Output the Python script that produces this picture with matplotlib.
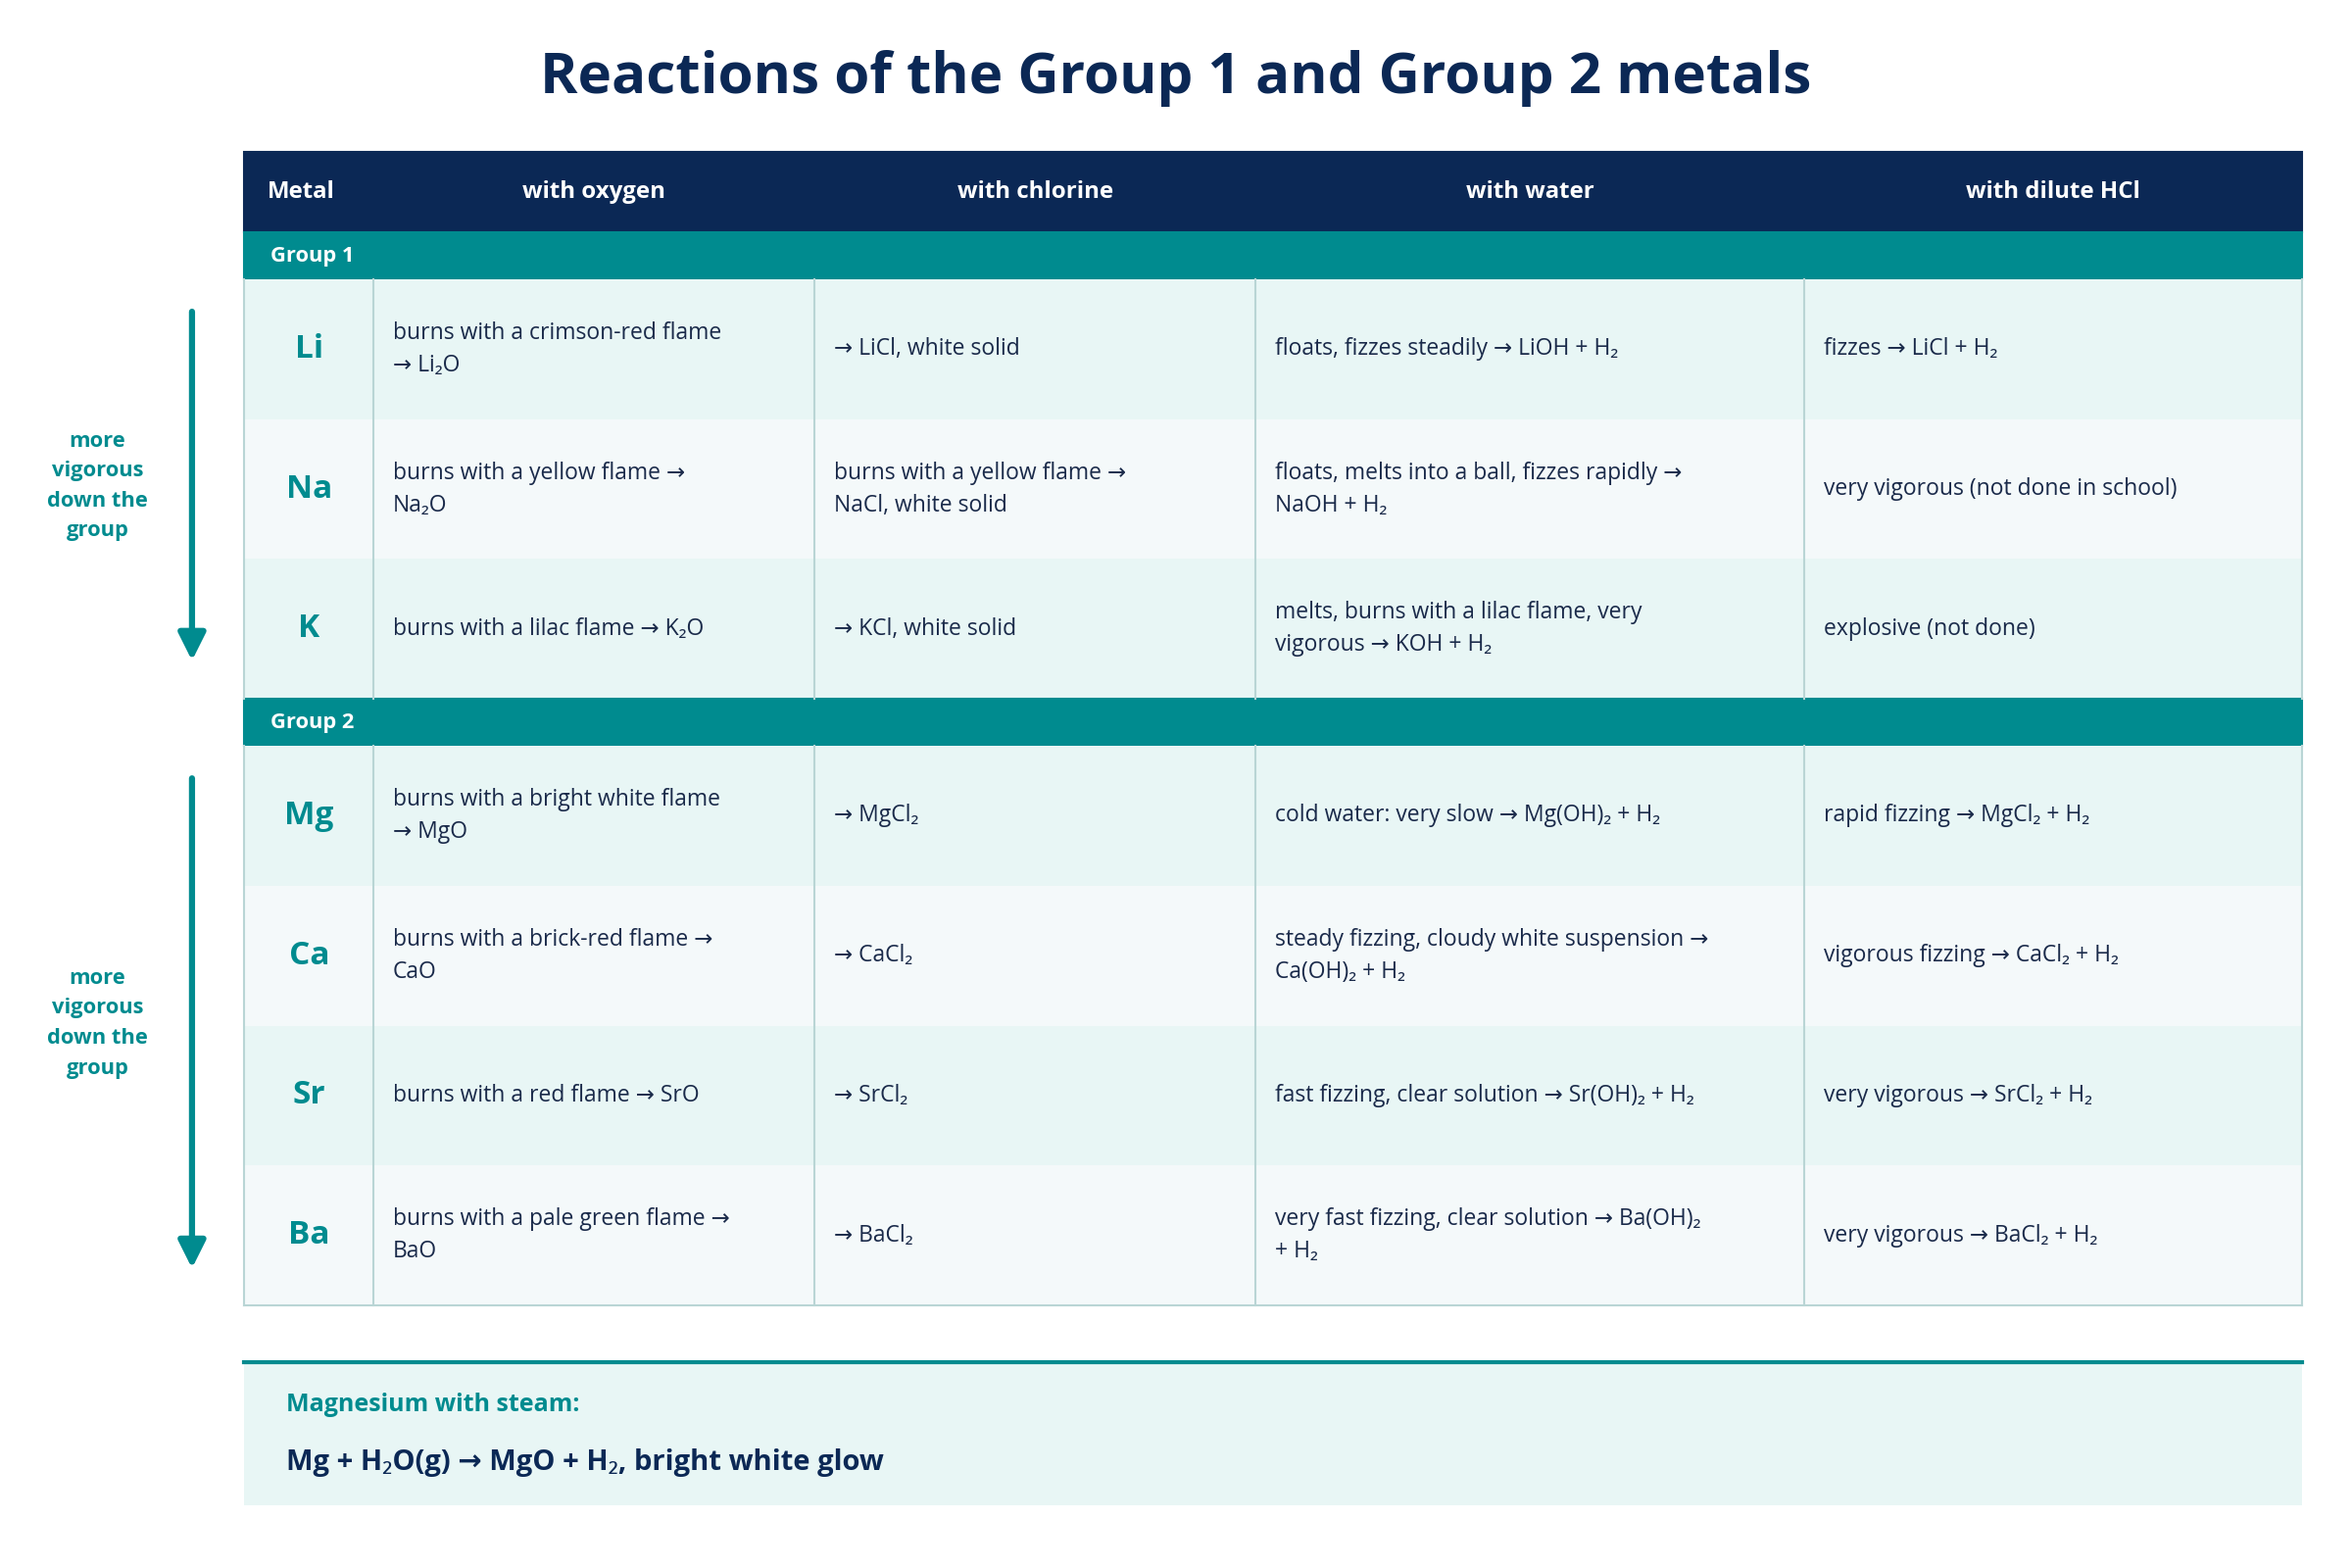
import matplotlib
matplotlib.use("Agg")
import matplotlib.pyplot as plt
from matplotlib.patches import Rectangle, FancyArrowPatch

plt.rcParams['font.family'] = ['Open Sans', 'Noto Sans', 'DejaVu Sans']

title = "Reactions of the Group 1 and Group 2 metals"
columns = ["Metal", "with oxygen", "with chlorine", "with water", "with dilute HCl"]
groups = ["Group 1", "Group 2"]
group1_metals = ["Li", "Na", "K"]
group1_rows = [
    ["burns with a crimson-red flame\n→ Li₂O", "→ LiCl, white solid", "floats, fizzes steadily → LiOH + H₂", "fizzes → LiCl + H₂"],
    ["burns with a yellow flame →\nNa₂O", "burns with a yellow flame →\nNaCl, white solid", "floats, melts into a ball, fizzes rapidly →\nNaOH + H₂", "very vigorous (not done in school)"],
    ["burns with a lilac flame → K₂O", "→ KCl, white solid", "melts, burns with a lilac flame, very\nvigorous → KOH + H₂", "explosive (not done)"],
]
group2_metals = ["Mg", "Ca", "Sr", "Ba"]
group2_rows = [
    ["burns with a bright white flame\n→ MgO", "→ MgCl₂", "cold water: very slow → Mg(OH)₂ + H₂", "rapid fizzing → MgCl₂ + H₂"],
    ["burns with a brick-red flame →\nCaO", "→ CaCl₂", "steady fizzing, cloudy white suspension →\nCa(OH)₂ + H₂", "vigorous fizzing → CaCl₂ + H₂"],
    ["burns with a red flame → SrO", "→ SrCl₂", "fast fizzing, clear solution → Sr(OH)₂ + H₂", "very vigorous → SrCl₂ + H₂"],
    ["burns with a pale green flame →\nBaO", "→ BaCl₂", "very fast fizzing, clear solution → Ba(OH)₂\n+ H₂", "very vigorous → BaCl₂ + H₂"],
]
side_note = "more\nvigorous\ndown the\ngroup"
box_title = "Magnesium with steam:"
box_text = "Mg + H₂O(g) → MgO + H₂, bright white glow"

NAVY = "#0b2855"; TEAL = "#008b8f"; TXT = "#1a2a4a"
ROW_A = "#e8f6f5"; ROW_B = "#f4f9fa"; LINE = "#b9d5d5"

fig = plt.figure(figsize=(16, 10.6667), dpi=150)
ax = fig.add_axes([0, 0, 1, 1])
ax.set_xlim(0, 1568); ax.set_ylim(1045, 0); ax.axis('off')

colx = [163, 249, 543, 837, 1203, 1535]
ax.text(784, 52, title, ha='center', va='center', fontsize=28, fontweight='bold', color=NAVY)

ax.add_patch(Rectangle((163, 101), 1372, 54, color=NAVY))
for i, c in enumerate(columns):
    if i == 0:
        ax.text(178, 128, c, ha='left', va='center', color='white', fontsize=11.5, fontweight='bold')
    else:
        ax.text((colx[i] + colx[i+1]) / 2, 128, c, ha='center', va='center', color='white', fontsize=11.5, fontweight='bold')

def draw_group(y0, name, metals, rows):
    ax.add_patch(Rectangle((163, y0), 1372, 31, color=TEAL))
    ax.text(180, y0 + 16, name, ha='left', va='center', color='white', fontsize=10.5, fontweight='bold')
    y = y0 + 31
    h = 93.3
    for k, (m, r) in enumerate(zip(metals, rows)):
        ax.add_patch(Rectangle((163, y), 1372, h, color=ROW_A if k % 2 == 0 else ROW_B, lw=0))
        ax.text(206, y + h/2, m, ha='center', va='center', color=TEAL, fontsize=16, fontweight='bold')
        for j, t in enumerate(r):
            ax.text(colx[j+1] + 13, y + h/2, t, ha='left', va='center', color=TXT, fontsize=11, linespacing=1.5)
        y += h
    for x in colx:
        ax.plot([x, x], [y0 + 31, y], color=LINE, lw=1)
    return y

y1 = draw_group(155, groups[0], group1_metals, group1_rows)
y2 = draw_group(y1, groups[1], group2_metals, group2_rows)
ax.plot([163, 1535], [y2, y2], color=LINE, lw=1)

for (ya, yb) in [(205, 443), (516, 848)]:
    ax.add_patch(FancyArrowPatch((128, ya), (128, yb), arrowstyle='-|>', mutation_scale=28, color=TEAL, lw=3))
    ax.text(65, (ya + yb) / 2, side_note, ha='center', va='center', color=TEAL, fontsize=10.5, fontweight='bold', linespacing=1.6)

ax.add_patch(Rectangle((163, 908), 1372, 95, color=ROW_A, lw=0))
ax.plot([163, 1535], [908, 908], color=TEAL, lw=2)
ax.text(191, 936, box_title, ha='left', va='center', color=TEAL, fontsize=12, fontweight='bold')
ax.text(191, 975, box_text, ha='left', va='center', color=NAVY, fontsize=14, fontweight='bold')

fig.savefig("out.png", dpi=150, facecolor='white')
